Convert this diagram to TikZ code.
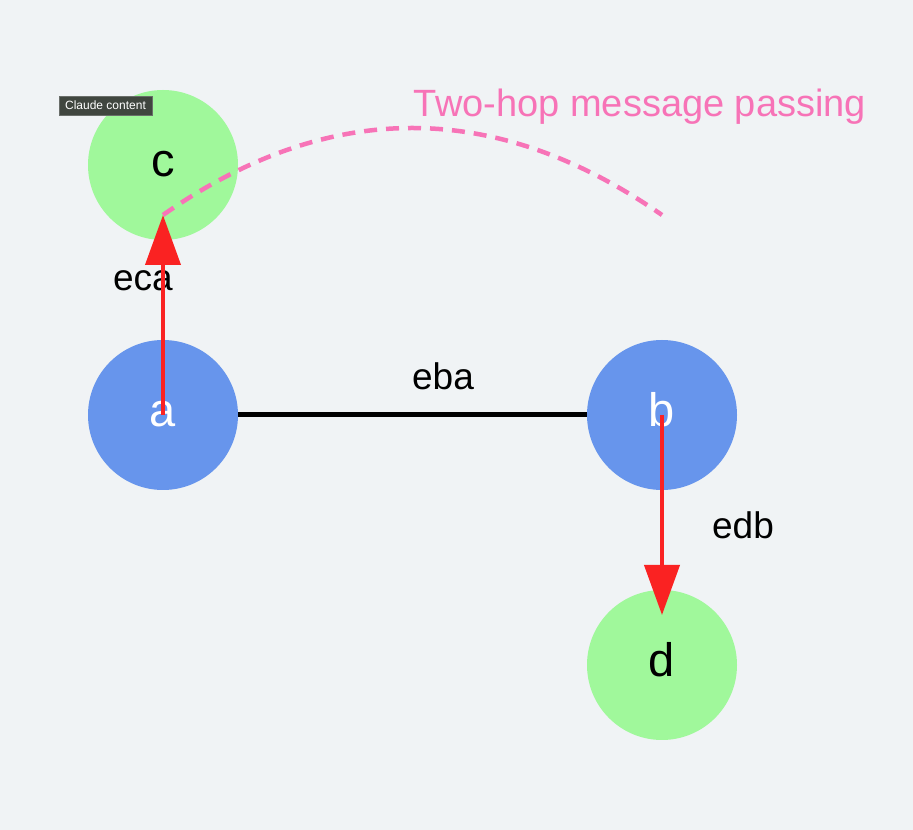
\documentclass[tikz,border=0pt]{standalone}
\usepackage{fontspec}
\setmainfont{Liberation Sans}
\usetikzlibrary{arrows.meta}
\definecolor{bgc}{HTML}{F0F3F5}
\definecolor{nodeblue}{HTML}{6795EC}
\definecolor{nodegreen}{HTML}{A0F89B}
\definecolor{arrowred}{HTML}{FA2222}
\definecolor{hopink}{HTML}{F773B7}
\definecolor{tagfill}{HTML}{40463F}
\definecolor{tagdraw}{HTML}{6A6E6A}
\tikzset{
  vertex/.style={circle, minimum size=150pt, inner sep=0pt, draw=none,
    text height=24pt, text depth=0pt, font=\fontsize{47}{50}\selectfont},
  bluevertex/.style={vertex, fill=nodeblue, text=white},
  greenvertex/.style={vertex, fill=nodegreen, text=black},
  edgelabel/.style={anchor=base, inner sep=0pt, font=\fontsize{37}{40}\selectfont},
  redarrow/.style={draw=arrowred, line width=4pt,
    -{Triangle[length=50pt,width=35pt]}, arrowred, shorten >=50pt},
  plainedge/.style={draw=black, line width=5pt},
  hopdash/.style={draw=hopink, line width=4.5pt, dash pattern=on 13pt off 9pt},
  titletext/.style={anchor=base, inner sep=0pt, text=hopink, font=\fontsize{38}{42}\selectfont},
  tag/.style={fill=tagfill, draw=tagdraw, line width=0.8pt, text=white, inner sep=0pt,
    minimum width=93pt, minimum height=19pt, font=\fontsize{12}{13}\selectfont}
}
\begin{document}
\begin{tikzpicture}[x=1pt,y=1pt]
  \fill[bgc] (0,0) rectangle (913,830);
  \useasboundingbox (0,0) rectangle (913,830);

  % vertices
  \node[greenvertex] (c) at (163,665) {c};
  \node[bluevertex]  (a) at (163,415) {a};
  \node[bluevertex]  (b) at (662,415) {b};
  \node[greenvertex] (d) at (662,165) {d};

  % edge labels
  \node[edgelabel] (lca) at (143,539) {eca};
  \node[edgelabel] (lba) at (443,440) {eba};
  \node[edgelabel] (ldb) at (743,291) {edb};

  % title
  \node[titletext] (title) at (640,713) {Two-hop message passing};

  % edges
  \draw[plainedge] (a) -- (b);
  \draw[redarrow] (a.center) -- (c.center);
  \draw[redarrow] (b.center) -- (d.center);

  % two-hop dashed arc
  \coordinate (arcs) at (163,615);
  \coordinate (arce) at (662,615);
  \coordinate (arcc1) at (329,731);
  \coordinate (arcc2) at (495,731);
  \draw[hopdash] (arcs) .. controls (arcc1) and (arcc2) .. (arce);

  % overlay tag
  \node[tag] (claudetag) at (105.5,724.5) {Claude content};
\end{tikzpicture}
\end{document}
